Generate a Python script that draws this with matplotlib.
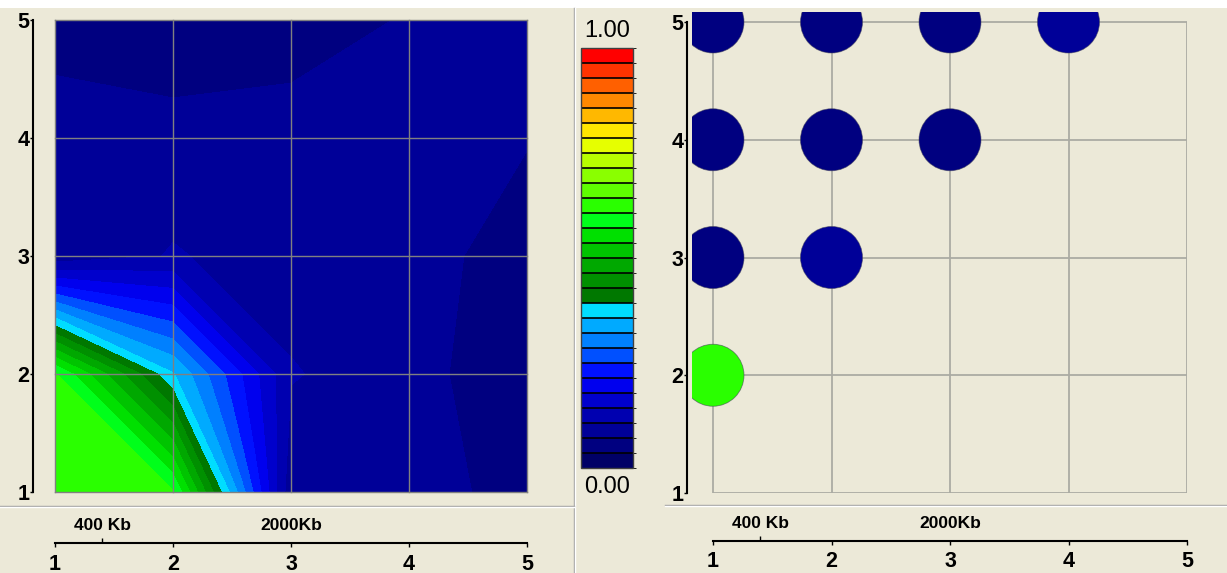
import numpy as np
import matplotlib
matplotlib.use('Agg')
import matplotlib.pyplot as plt
from matplotlib.colors import ListedColormap, BoundaryNorm
from matplotlib.lines import Line2D
from matplotlib.patches import Rectangle

# ---------------- data ----------------
x_vals = [1, 2, 3, 4, 5]
y_vals = [1, 2, 3, 4, 5]
tick_labels = ['1', '2', '3', '4', '5']
# contour values, one row per y = 1..5, columns x = 1..5
z_row1 = [0.625, 0.61, 0.08, 0.09, 0.055]
z_row2 = [0.61, 0.36, 0.11, 0.085, 0.045]
z_row3 = [0.08, 0.11, 0.09, 0.09, 0.05]
z_row4 = [0.09, 0.085, 0.09, 0.09, 0.074]
z_row5 = [0.055, 0.045, 0.05, 0.075, 0.08]

circle_x = [1, 2, 3, 4, 1, 2, 3, 1, 2, 1]
circle_y = [5, 5, 5, 5, 4, 4, 4, 3, 3, 2]
circle_val = [0.055, 0.05, 0.055, 0.09, 0.06, 0.06, 0.06, 0.06, 0.1, 0.625]

band_colors = ['#000066', '#000080', '#000098', '#0000B0', '#0000CC', '#0000EE',
               '#0011FF', '#0050FF', '#0080FF', '#00AAFF', '#00DDFF',
               '#007800', '#009000', '#00A800', '#00C400', '#00E000', '#00FF1A',
               '#2AFF00', '#5FFF00', '#8AFF00', '#B8FF00', '#E6FF00',
               '#FFE600', '#FFB800', '#FF8800', '#FF6000', '#FF3300', '#FF0000']
cbar_low, cbar_high = '0.00', '1.00'
scale_labels = ['400 Kb', '2000Kb']
scale_pos = [1.4, 3]

# ---------------- setup ----------------
W, H = 1227, 573
BG = '#ECE9D8'
plt.rcParams['font.family'] = ['Liberation Sans', 'DejaVu Sans']
fig = plt.figure(figsize=(W / 100, H / 100), dpi=100, facecolor=BG)
TICK_FS = 15.5
SCALE_FS = 12.5
CBAR_FS = 17


def fx(px):
    return px / W


def fy(py):
    return 1 - py / H


def pt(px):
    return px * 0.72


# white top strip
fig.patches.append(Rectangle((0, fy(8)), 1, 8 / H, transform=fig.transFigure,
                             facecolor='white', edgecolor='none', zorder=0))
# separators
for (xs, ys, c) in [([574 / W, 574 / W], [0, fy(8)], '#A0A0A0'),
                    ([575 / W, 575 / W], [0, fy(8)], 'white'),
                    ([0, 574 / W], [fy(506), fy(506)], '#A0A0A0'),
                    ([0, 574 / W], [fy(507), fy(507)], 'white'),
                    ([665 / W, 1], [fy(505), fy(505)], '#A0A0A0'),
                    ([665 / W, 1], [fy(506), fy(506)], 'white')]:
    fig.add_artist(Line2D(xs, ys, transform=fig.transFigure, color=c, lw=1))

cmap = ListedColormap(band_colors)
levels = np.linspace(0, 1, len(band_colors) + 1)
norm = BoundaryNorm(levels, cmap.N)

# ---------------- left: contour ----------------
ax1 = fig.add_axes([fx(55), fy(492), 472 / W, 472 / H])
Z = np.array([z_row1, z_row2, z_row3, z_row4, z_row5])
X, Y = np.meshgrid(x_vals, y_vals)
cs = ax1.contourf(X, Y, Z, levels=levels, cmap=cmap, norm=norm)
ax1.set_xlim(1, 5)
ax1.set_ylim(1, 5)
for v in x_vals:
    ax1.axvline(v, color='#808080', lw=1, zorder=5, clip_on=False)
for v in y_vals:
    ax1.axhline(v, color='#808080', lw=1, zorder=5, clip_on=False)
for s in ['top', 'right', 'bottom']:
    ax1.spines[s].set_visible(False)
ax1.spines['left'].set_position(('outward', pt(22)))
ax1.spines['left'].set_color('black')
ax1.spines['left'].set_linewidth(1.5)
ax1.set_xticks([])
ax1.set_yticks(y_vals)
ax1.set_yticklabels(tick_labels, fontsize=TICK_FS, fontweight='bold')
ax1.set_yticks([1, 5], minor=True)
ax1.tick_params(axis='y', which='major', direction='out', length=pt(3), width=1, pad=0.5)
ax1.tick_params(axis='y', which='minor', direction='in', length=pt(7), width=1.2)


def scale_axis(left_px, right_px, line_px, lab_pad):
    bx = fig.add_axes([fx(left_px), fy(line_px), (right_px - left_px) / W, 1e-4])
    bx.set_facecolor('none')
    for s in ['top', 'right', 'left']:
        bx.spines[s].set_visible(False)
    bx.spines['bottom'].set_linewidth(1.5)
    bx.set_xlim(1, 5)
    bx.set_yticks([])
    bx.set_xticks(x_vals)
    bx.set_xticklabels(tick_labels, fontsize=TICK_FS, fontweight='bold')
    bx.set_xticks([1] + scale_pos + [5], minor=True)
    bx.tick_params(axis='x', which='major', direction='out', length=pt(4), width=1, pad=lab_pad)
    bx.tick_params(axis='x', which='minor', direction='in', length=pt(5), width=1)
    for lab, p in zip(scale_labels, scale_pos):
        bx.annotate(lab, xy=(p, 0), xycoords=('data', 'axes fraction'),
                    xytext=(0, 18), textcoords='offset pixels',
                    ha='center', va='center', fontsize=SCALE_FS, fontweight='bold')
    return bx


scale_axis(55, 527, 543, 5)
# ---------------- colorbar ----------------
cax = fig.add_axes([fx(581), fy(468), 52 / W, 420 / H])
cb = fig.colorbar(cs, cax=cax, drawedges=True)
cb.set_ticks([])
cb.outline.set_edgecolor('#404040')
cb.outline.set_linewidth(1)
cb.dividers.set_color('black')
cb.dividers.set_linewidth(1.2)
cax.annotate(cbar_high, xy=(0.5, 1), xycoords='axes fraction', xytext=(0, 17),
             textcoords='offset pixels', ha='center', va='center', fontsize=CBAR_FS)
cax.annotate(cbar_low, xy=(0.5, 0), xycoords='axes fraction', xytext=(0, -19),
             textcoords='offset pixels', ha='center', va='center', fontsize=CBAR_FS)

# ---------------- right: circles ----------------
ax2 = fig.add_axes([fx(692), fy(493), (1187 - 692) / W, (493 - 12) / H])
ax2.set_facecolor('none')
ax2.set_xlim(1 - (713 - 692) * 4 / 474, 5)
ax2.set_ylim(1, 5 + (22 - 12) * 4 / 471)
ax2.hlines(y_vals, 1, 5, color='#ABABA3', lw=1.3, zorder=1)
ax2.vlines(x_vals, 1, 5, color='#ABABA3', lw=1.3, zorder=1)
ax2.scatter(circle_x, circle_y, s=pt(62) ** 2, c=[cmap(norm(v)) for v in circle_val],
            edgecolors=(0.25, 0.25, 0.35, 0.6), linewidths=0.6, zorder=3)
for s in ['top', 'right', 'bottom']:
    ax2.spines[s].set_visible(False)
ax2.spines['left'].set_bounds(1, 5)
ax2.spines['left'].set_position(('outward', pt(5)))
ax2.spines['left'].set_linewidth(1.5)
ax2.set_xticks([])
ax2.set_yticks(y_vals)
ax2.set_yticklabels(tick_labels, fontsize=TICK_FS, fontweight='bold')
ax2.set_yticks([1, 5], minor=True)
ax2.tick_params(axis='y', which='major', direction='out', length=pt(3), width=1, pad=0.5)
ax2.tick_params(axis='y', which='minor', direction='in', length=pt(6), width=1.2)

scale_axis(713, 1187, 541, 4)

fig.savefig('out.png', dpi=100, facecolor=BG)
